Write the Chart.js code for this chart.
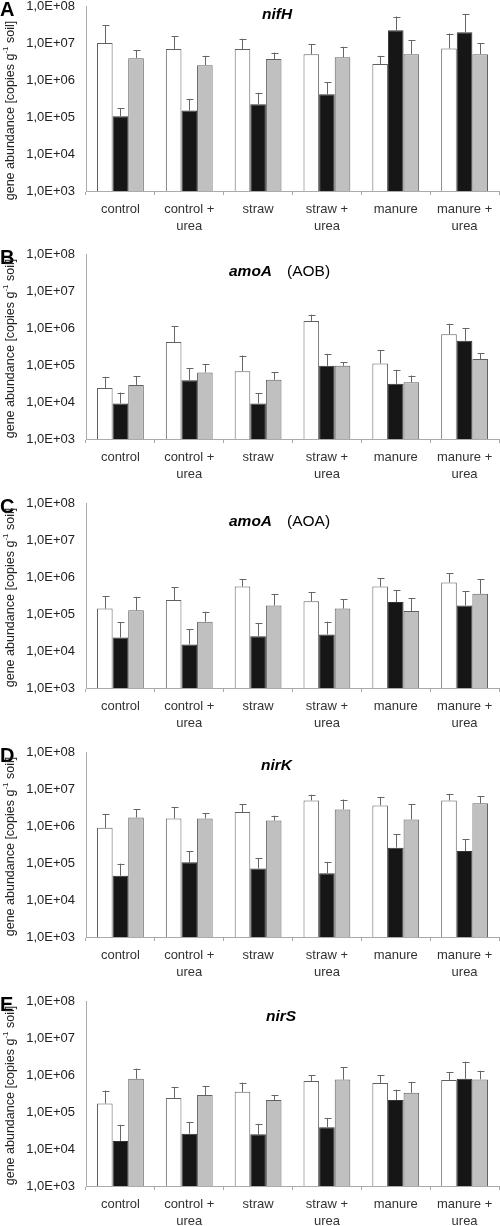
<!DOCTYPE html>
<html>
<head>
<meta charset="utf-8">
<script src="https://cdn.jsdelivr.net/npm/chart.js@4"></script>
<style>
  body { margin: 0; background: #fff; width: 500px; height: 1226px; overflow: hidden; position: relative; }
  canvas { position: absolute; left: 0; }
</style>
</head>
<body>
<canvas id="pA" width="500" height="249" style="top:0px"></canvas>
<canvas id="pB" width="500" height="249" style="top:248px"></canvas>
<canvas id="pC" width="500" height="249" style="top:497px"></canvas>
<canvas id="pD" width="500" height="249" style="top:746px"></canvas>
<canvas id="pE" width="500" height="249" style="top:995px"></canvas>
<script>
// treatments on the x axis
const categories = ['control', ['control +', 'urea'], 'straw', ['straw +', 'urea'], 'manure', ['manure +', 'urea']];
const yTicks = [1e3, 1e4, 1e5, 1e6, 1e7, 1e8];

// A - nifH (bar value, top of error bar)
const nifH_white = [1.0e7, 6.9e6, 6.9e6, 5.0e6, 2.7e6, 7.1e6];
const nifH_whiteErr = [3.0e7, 1.5e7, 1.3e7, 9.4e6, 4.5e6, 1.8e7];
const nifH_black = [1.05e5, 1.5e5, 2.2e5, 4.1e5, 2.2e7, 1.96e7];
const nifH_blackErr = [1.7e5, 3.1e5, 4.5e5, 8.7e5, 5.2e7, 6.0e7];
const nifH_gray = [3.9e6, 2.5e6, 3.7e6, 4.1e6, 5.0e6, 5.0e6];
const nifH_grayErr = [6.3e6, 4.5e6, 5.5e6, 7.9e6, 1.17e7, 1.0e7];

// B - amoA (AOB)
const aob_white = [2.4e4, 4.2e5, 6.8e4, 1.55e6, 1.1e5, 6.8e5];
const aob_whiteErr = [4.8e4, 1.1e6, 1.8e5, 2.3e6, 2.5e5, 1.3e6];
const aob_black = [9.1e3, 3.9e4, 9.1e3, 9.5e4, 3.1e4, 4.5e5];
const aob_blackErr = [1.8e4, 8.2e4, 1.7e4, 2.0e5, 7.4e4, 9.8e5];
const aob_gray = [2.9e4, 6.3e4, 4.0e4, 9.5e4, 3.4e4, 1.45e5];
const aob_grayErr = [4.9e4, 1.05e5, 6.4e4, 1.17e5, 5.2e4, 2.1e5];

// C - amoA (AOA)
const aoa_white = [1.4e5, 2.4e5, 5.5e5, 2.2e5, 5.5e5, 7.1e5];
const aoa_whiteErr = [3.0e5, 5.3e5, 8.9e5, 3.9e5, 9.2e5, 1.26e6];
const aoa_black = [2.3e4, 1.5e4, 2.5e4, 2.8e4, 2.1e5, 1.7e5];
const aoa_blackErr = [5.9e4, 3.9e4, 5.6e4, 6.2e4, 4.4e5, 4.1e5];
const aoa_gray = [1.26e5, 6.2e4, 1.7e5, 1.4e5, 1.2e5, 3.5e5];
const aoa_grayErr = [2.9e5, 1.15e5, 3.5e5, 2.5e5, 2.7e5, 8.7e5];

// D - nirK
const nirK_white = [8.9e5, 1.6e6, 2.4e6, 4.9e6, 3.6e6, 4.9e6];
const nirK_whiteErr = [2.1e6, 3.3e6, 3.9e6, 7.0e6, 6.1e6, 7.4e6];
const nirK_black = [4.5e4, 1.05e5, 7.1e4, 5.3e4, 2.6e5, 2.1e5];
const nirK_blackErr = [9.6e4, 2.1e5, 1.37e5, 1.07e5, 5.9e5, 4.4e5];
const nirK_gray = [1.7e6, 1.6e6, 1.4e6, 2.8e6, 1.5e6, 4.1e6];
const nirK_grayErr = [2.8e6, 2.2e6, 1.9e6, 5.2e6, 3.9e6, 6.3e6];

// E - nirS
const nirS_white = [1.7e5, 2.4e5, 3.5e5, 6.9e5, 6.1e5, 7.3e5];
const nirS_whiteErr = [3.8e5, 4.8e5, 6.2e5, 1.0e6, 1.0e6, 1.2e6];
const nirS_black = [1.65e4, 2.6e4, 2.5e4, 3.9e4, 2.1e5, 7.9e5];
const nirS_blackErr = [4.5e4, 5.4e4, 4.8e4, 6.9e4, 4.0e5, 2.3e6];
const nirS_gray = [7.9e5, 2.9e5, 2.1e5, 7.5e5, 3.3e5, 7.6e5];
const nirS_grayErr = [1.48e6, 5.0e5, 2.9e5, 1.6e6, 6.5e5, 1.3e6];

const FONT = '"Liberation Sans", Arial, sans-serif';

const panels = [
  { id: 'pA', letter: 'A', gene: 'nifH', extra: '', tx: 262, ty: 15, titleShift: 12,
    vals: [nifH_white, nifH_black, nifH_gray], errs: [nifH_whiteErr, nifH_blackErr, nifH_grayErr] },
  { id: 'pB', letter: 'B', gene: 'amoA', extra: '(AOB)', tx: 229, ty: 24, titleShift: 2,
    vals: [aob_white, aob_black, aob_gray], errs: [aob_whiteErr, aob_blackErr, aob_grayErr] },
  { id: 'pC', letter: 'C', gene: 'amoA', extra: '(AOA)', tx: 229, ty: 25, titleShift: 2,
    vals: [aoa_white, aoa_black, aoa_gray], errs: [aoa_whiteErr, aoa_blackErr, aoa_grayErr] },
  { id: 'pD', letter: 'D', gene: 'nirK', extra: '', tx: 261, ty: 20, titleShift: 2,
    vals: [nirK_white, nirK_black, nirK_gray], errs: [nirK_whiteErr, nirK_blackErr, nirK_grayErr] },
  { id: 'pE', letter: 'E', gene: 'nirS', extra: '', tx: 266, ty: 22, titleShift: 2,
    vals: [nirS_white, nirS_black, nirS_gray], errs: [nirS_whiteErr, nirS_blackErr, nirS_grayErr] }
];

const fills = ['#ffffff', '#161616', '#c0c0c0'];
const borders = ['#606060', '#333333', '#606060'];

// upper error bars only
const errorBars = {
  id: 'errorBars',
  afterDatasetsDraw(chart, args, opts) {
    const ctx = chart.ctx;
    const y = chart.scales.y;
    ctx.save();
    ctx.strokeStyle = '#666';
    ctx.lineWidth = 1;
    chart.data.datasets.forEach((ds, i) => {
      chart.getDatasetMeta(i).data.forEach((bar, j) => {
        const top = y.getPixelForValue(ds.errTop[j]);
        const x = Math.round(bar.x) + 0.5;
        ctx.beginPath();
        ctx.moveTo(x, bar.y);
        ctx.lineTo(x, top);
        ctx.moveTo(x - 3, Math.round(top) + 0.5);
        ctx.lineTo(x + 4, Math.round(top) + 0.5);
        ctx.stroke();
      });
    });
    ctx.restore();
  }
};

// panel letter, gene title and rotated y title
const decorations = {
  id: 'decorations',
  afterDraw(chart, args, opts) {
    const ctx = chart.ctx;
    const a = chart.chartArea;
    ctx.save();
    ctx.fillStyle = '#000';
    ctx.textBaseline = 'top';
    ctx.font = 'bold 20px ' + FONT;
    ctx.fillText(opts.letter, 0, 0);

    ctx.textBaseline = 'middle';
    ctx.font = 'italic bold 15.5px ' + FONT;
    ctx.fillText(opts.gene, opts.tx, opts.ty);
    if (opts.extra) {
      const w = ctx.measureText(opts.gene).width;
      ctx.font = '15.5px ' + FONT;
      ctx.fillText(opts.extra, opts.tx + w + 15, opts.ty);
    }

    // y axis title with superscript
    ctx.translate(11, (a.top + a.bottom) / 2 + opts.titleShift);
    ctx.rotate(-Math.PI / 2);
    ctx.fillStyle = '#222';
    const p1 = 'gene abundance [copies g', sup = '-1', p2 = ' soil]';
    ctx.font = '12.5px ' + FONT;
    const w1 = ctx.measureText(p1).width, w3 = ctx.measureText(p2).width;
    ctx.font = '8px ' + FONT;
    const w2 = ctx.measureText(sup).width;
    let x = -(w1 + w2 + w3) / 2;
    ctx.textAlign = 'left';
    ctx.font = '12.5px ' + FONT;
    ctx.fillText(p1, x, 0);
    ctx.font = '8px ' + FONT;
    ctx.fillText(sup, x + w1, -5);
    ctx.font = '12.5px ' + FONT;
    ctx.fillText(p2, x + w1 + w2, 0);
    ctx.restore();
  }
};

panels.forEach(p => {
  new Chart(document.getElementById(p.id), {
    type: 'bar',
    data: {
      labels: categories,
      datasets: p.vals.map((v, i) => ({
        data: v,
        errTop: p.errs[i],
        backgroundColor: fills[i],
        borderColor: borders[i],
        borderWidth: 1,
        borderSkipped: 'start',
        categoryPercentage: 0.68,
        barPercentage: 1.0
      }))
    },
    options: {
      responsive: false,
      animation: false,
      devicePixelRatio: 1,
      layout: { padding: { top: 6, right: 1, left: 0, bottom: 0 } },
      plugins: {
        legend: { display: false },
        tooltip: { enabled: false },
        decorations: { letter: p.letter, gene: p.gene, extra: p.extra, tx: p.tx, ty: p.ty, titleShift: p.titleShift }
      },
      scales: {
        x: {
          offset: true,
          grid: { display: true, offset: true, drawOnChartArea: false, drawTicks: true, tickLength: 4, color: '#aaa' },
          border: { display: true, color: '#aaa', width: 1 },
          ticks: { color: '#333', font: { family: FONT, size: 13, lineHeight: 1.3 }, padding: 6, maxRotation: 0, autoSkip: false },
          afterFit: s => { s.height = 58; s.paddingLeft = 0; s.paddingRight = 0; }
        },
        y: {
          type: 'logarithmic',
          min: 1e3,
          max: 1e8,
          grid: { display: false, drawTicks: false },
          border: { display: true, color: '#aaa', width: 1 },
          afterBuildTicks: s => { s.ticks = yTicks.map(v => ({ value: v, major: true })); },
          ticks: {
            autoSkip: false,
            padding: 11,
            color: '#222',
            font: { family: FONT, size: 13 },
            callback: v => '1,0E+' + String(Math.round(Math.log10(v))).padStart(2, '0')
          },
          afterFit: s => { s.width = 86; s.paddingTop = 0; s.paddingBottom = 0; }
        }
      }
    },
    plugins: [errorBars, decorations]
  });
});
</script>
</body>
</html>
